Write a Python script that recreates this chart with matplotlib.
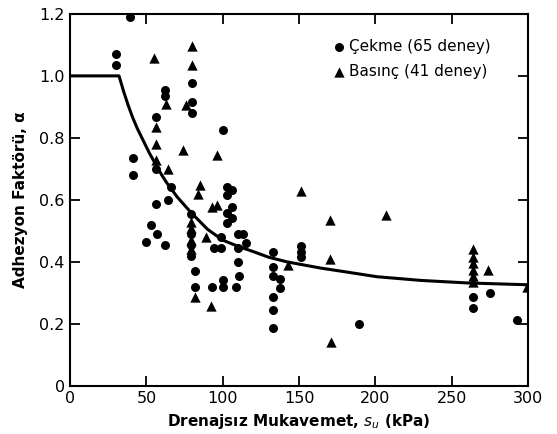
import matplotlib.pyplot as plt
import numpy as np

# egri (okunan noktalar)
curve_su = [0, 32, 35, 38, 41, 44, 48, 52, 56, 60, 63, 70, 79, 90, 100, 110, 120, 130, 142, 153, 164, 184, 201, 230, 260, 300]
curve_a = [1.0, 1.0, 0.95, 0.905, 0.865, 0.83, 0.79, 0.75, 0.715, 0.68, 0.657, 0.61, 0.56, 0.505, 0.47, 0.45, 0.433, 0.415, 0.40, 0.39, 0.38, 0.365, 0.352, 0.34, 0.332, 0.326]

# Cekme (daire)
cekme_su = [39, 30, 30, 80, 62, 62, 80, 80, 56, 100, 41, 41, 56, 66,
            103, 106, 103, 64, 56, 106, 103, 106, 103, 79, 79, 79, 79,
            53, 57, 50, 62, 94, 99, 99, 110, 113, 115, 110, 110, 110.5, 108.5,
            100, 100, 93, 82, 82,
            133, 133, 133, 137.5, 137.5, 133, 133, 133, 151, 151, 151,
            189, 264, 264, 275, 293]
cekme_a = [1.19, 1.07, 1.035, 0.978, 0.955, 0.935, 0.915, 0.88, 0.867, 0.825, 0.734, 0.68, 0.70, 0.643,
           0.643, 0.632, 0.616, 0.60, 0.587, 0.578, 0.558, 0.54, 0.525, 0.555, 0.49, 0.455, 0.42,
           0.52, 0.49, 0.465, 0.455, 0.445, 0.445, 0.48, 0.49, 0.49, 0.46, 0.445, 0.40, 0.353, 0.32,
           0.342, 0.32, 0.32, 0.372, 0.32,
           0.433, 0.383, 0.353, 0.344, 0.315, 0.286, 0.245, 0.186, 0.45, 0.433, 0.417,
           0.2, 0.288, 0.25, 0.30, 0.213]

# Basinc (ucgen)
basinc_su = [55, 80, 80, 63, 76, 56, 56, 74, 96.5, 56, 64, 85, 84, 151, 93, 96.5,
             79, 79, 79, 79, 89, 82, 92, 143, 170, 170, 171, 207,
             264, 264, 264, 264, 264, 264, 274, 299]
basinc_a = [1.058, 1.095, 1.035, 0.91, 0.906, 0.834, 0.78, 0.76, 0.745, 0.73, 0.70, 0.648, 0.62, 0.627, 0.578, 0.584,
            0.53, 0.51, 0.47, 0.44, 0.48, 0.288, 0.256, 0.39, 0.535, 0.41, 0.143, 0.552,
            0.44, 0.417, 0.396, 0.374, 0.353, 0.335, 0.374, 0.32]

xticks = [0, 50, 100, 150, 200, 250, 300]
yticks = [0, 0.2, 0.4, 0.6, 0.8, 1.0, 1.2]
ylabels = ["0", "0.2", "0.4", "0.6", "0.8", "1.0", "1.2"]

plt.rcParams['font.family'] = ['DejaVu Sans']

fig = plt.figure(figsize=(5.57, 4.34), dpi=100)
ax = fig.add_axes([0.126, 0.111, 0.822, 0.857])

ax.plot(curve_su, curve_a, color='black', lw=2.2, zorder=2)
ax.scatter(cekme_su, cekme_a, marker='o', s=42, color='black', lw=0,
           label='Çekme (65 deney)', zorder=3)
ax.scatter(basinc_su, basinc_a, marker='^', s=55, color='black', lw=0,
           label='Basınç (41 deney)', zorder=3)

ax.set_xlim(0, 300)
ax.set_ylim(0, 1.2)
ax.set_xticks(xticks)
ax.set_yticks(yticks)
ax.set_yticklabels(ylabels)
ax.tick_params(direction='in', length=7, width=1.3, top=True, right=True,
               labelsize=11.5, pad=4)
for s in ax.spines.values():
    s.set_linewidth(1.5)

ax.set_xlabel('Drenajsız Mukavemet, $s_u$ (kPa)', fontsize=11, fontweight='bold')
ax.set_ylabel('Adhezyon Faktörü, α', fontsize=11, fontweight='bold', labelpad=8)

ax.legend(loc='upper left', bbox_to_anchor=(0.56, 0.95), frameon=False,
          handlelength=0.8, handletextpad=0.3, labelspacing=0.7, fontsize=11,
          borderaxespad=0)

fig.savefig('out.png', dpi=100)
